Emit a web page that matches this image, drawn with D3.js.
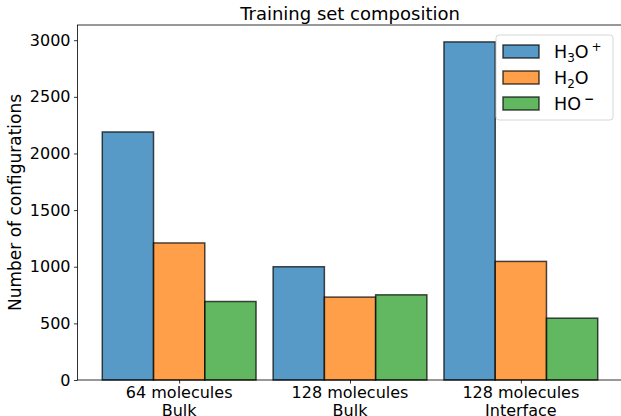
<!DOCTYPE html>
<html>
<head>
<meta charset="utf-8">
<script src="https://cdn.jsdelivr.net/npm/d3@7"></script>
<style>
  body { margin: 0; background: #fff; }
  text { font-family: "DejaVu Sans", sans-serif; fill: #000; }
</style>
</head>
<body>
<div id="chart"></div>
<script>
// chart data
var categories = [["64 molecules", "Bulk"], ["128 molecules", "Bulk"], ["128 molecules", "Interface"]];
var seriesNames = ["H3O+", "H2O", "HO-"];
var h3oValues = [2190, 1000, 2985];
var h2oValues = [1210, 732, 1047];
var hoValues = [693, 752, 546];
var yTicks = [0, 500, 1000, 1500, 2000, 2500, 3000];

var width = 621, height = 416;
var plotLeft = 77.5, plotRight = 622.5, plotTop = 25, plotBottom = 380;
var barWidth = 0.3;
var colors = ["#1f77b4", "#ff7f0e", "#2ca02c"];
var series = [h3oValues, h2oValues, hoValues];

var svg = d3.select("#chart")
  .append("svg")
    .attr("width", width)
    .attr("height", height);

// matplotlib style margins of 5%
var xmin = -1.5 * barWidth, xmax = (categories.length - 1) + 1.5 * barWidth;
var pad = (xmax - xmin) * 0.05;
var x = d3.scaleLinear().domain([xmin - pad, xmax + pad]).range([plotLeft, plotRight]);
var ymax = d3.max(series, function(s) { return d3.max(s); }) * 1.05;
var y = d3.scaleLinear().domain([0, ymax]).range([plotBottom, plotTop]);

// bars
series.forEach(function(vals, si) {
  svg.append("g")
    .selectAll("rect")
    .data(vals)
    .enter()
    .append("rect")
      .attr("x", function(d, i) { return x(i + (si - 1) * barWidth - barWidth / 2); })
      .attr("width", x(barWidth) - x(0))
      .attr("y", function(d) { return y(d); })
      .attr("height", function(d) { return plotBottom - y(d); })
      .attr("fill", colors[si])
      .attr("fill-opacity", 0.75)
      .attr("stroke", "#000")
      .attr("stroke-opacity", 0.7)
      .attr("stroke-width", 1.5);
});

// y axis
var yAxis = svg.append("g")
  .attr("transform", "translate(" + plotLeft + ",0)")
  .call(d3.axisLeft(y).tickValues(yTicks).tickSize(3.5).tickPadding(3.5).tickFormat(d3.format("d")));
yAxis.select(".domain").remove();
yAxis.selectAll("text").style("font-size", "16px").style("font-family", "DejaVu Sans");
yAxis.selectAll("line").attr("stroke", "#000").attr("stroke-width", 0.8);

// x axis
var xAxis = svg.append("g")
  .attr("transform", "translate(0," + plotBottom + ")")
  .call(d3.axisBottom(x).tickValues(d3.range(categories.length)).tickSize(3.5).tickFormat(""));
xAxis.select(".domain").remove();
xAxis.selectAll("line").attr("stroke", "#000").attr("stroke-width", 0.8);

var xLabels = svg.append("g")
  .selectAll("text")
  .data(categories)
  .enter()
  .append("text")
    .attr("x", function(d, i) { return x(i); })
    .attr("y", 397.5)
    .attr("text-anchor", "middle")
    .style("font-size", "16px");
xLabels.append("tspan").text(function(d) { return d[0]; });
xLabels.append("tspan")
  .attr("x", function(d, i) { return x(i); })
  .attr("dy", 18)
  .text(function(d) { return d[1]; });

// spines
svg.append("rect")
  .attr("x", plotLeft)
  .attr("y", plotTop)
  .attr("width", plotRight - plotLeft)
  .attr("height", plotBottom - plotTop)
  .attr("fill", "none")
  .attr("stroke", "#000")
  .attr("stroke-width", 0.8);

// title + y label
svg.append("text")
  .attr("x", (plotLeft + plotRight) / 2)
  .attr("y", 20)
  .attr("text-anchor", "middle")
  .style("font-size", "18px")
  .text("Training set composition");

svg.append("text")
  .attr("transform", "translate(21," + (plotTop + plotBottom) / 2 + ") rotate(-90)")
  .attr("text-anchor", "middle")
  .style("font-size", "17px")
  .text("Number of configurations");

// legend
var legend = svg.append("g");
legend.append("rect")
  .attr("x", 496)
  .attr("y", 35)
  .attr("width", 117)
  .attr("height", 85)
  .attr("rx", 3)
  .attr("fill", "#fff")
  .attr("fill-opacity", 0.8)
  .attr("stroke", "#ccc")
  .attr("stroke-width", 0.8);

var entries = legend.selectAll("g.entry")
  .data(seriesNames)
  .enter()
  .append("g")
    .attr("class", "entry")
    .attr("transform", function(d, i) { return "translate(503," + (45 + i * 26) + ")"; });

entries.append("rect")
  .attr("width", 36)
  .attr("height", 13)
  .attr("fill", function(d, i) { return colors[i]; })
  .attr("fill-opacity", 0.75)
  .attr("stroke", "#000")
  .attr("stroke-opacity", 0.7)
  .attr("stroke-width", 1.5);

// chemical formulas with sub/superscripts
var legendText = entries.append("text")
  .attr("x", 51)
  .attr("y", 13)
  .style("font-size", "17.5px");

legendText.each(function(d) {
  var t = d3.select(this);
  if (d === "H3O+") {
    t.append("tspan").text("H");
    t.append("tspan").attr("dy", 4).style("font-size", "12px").text("3");
    t.append("tspan").attr("dy", -4).text("O");
    t.append("tspan").attr("dy", -7).attr("dx", 3).style("font-size", "12px").text("+");
  } else if (d === "H2O") {
    t.append("tspan").text("H");
    t.append("tspan").attr("dy", 4).style("font-size", "12px").text("2");
    t.append("tspan").attr("dy", -4).text("O");
  } else {
    t.append("tspan").text("HO");
    t.append("tspan").attr("dy", -7).attr("dx", 3).style("font-size", "12px").style("font-weight", "bold").text("\u2212");
  }
});
</script>
</body>
</html>
